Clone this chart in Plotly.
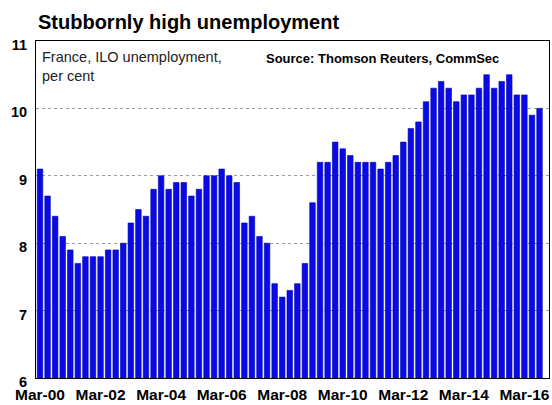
import plotly.graph_objects as go

# Quarterly labels, Mar-00 through Sep-16
months = ["Mar", "Jun", "Sep", "Dec"]
quarters = [f"{m}-{y:02d}" for y in range(0, 17) for m in months][:67]

# France ILO unemployment rate, per cent
unemployment = [
    9.1, 8.7, 8.4, 8.1, 7.9, 7.7, 7.8, 7.8,
    7.8, 7.9, 7.9, 8.0, 8.3, 8.5, 8.4, 8.8,
    9.0, 8.8, 8.9, 8.9, 8.7, 8.8, 9.0, 9.0,
    9.1, 9.0, 8.9, 8.3, 8.4, 8.1, 8.0, 7.4,
    7.2, 7.3, 7.4, 7.7, 8.6, 9.2, 9.2, 9.5,
    9.4, 9.3, 9.2, 9.2, 9.2, 9.1, 9.2, 9.3,
    9.5, 9.7, 9.8, 10.1, 10.3, 10.4, 10.3, 10.1,
    10.2, 10.2, 10.3, 10.5, 10.3, 10.4, 10.5, 10.2,
    10.2, 9.9, 10.0,
]

x_tick_labels = quarters[::8]
y_ticks = [6, 7, 8, 9, 10, 11]

fig = go.Figure(
    go.Bar(
        x=quarters,
        y=unemployment,
        marker=dict(color="#0a0ae6", line=dict(color="#0000a8", width=0.6)),
    )
)

fig.update_layout(
    width=552,
    height=405,
    margin=dict(l=36, r=2, t=41, b=21),
    paper_bgcolor="white",
    plot_bgcolor="white",
    bargap=0.27,
    showlegend=False,
    font=dict(family="Liberation Sans, Arial, sans-serif", color="black"),
)

fig.update_xaxes(
    type="category",
    categoryorder="array",
    categoryarray=quarters,
    range=[-0.53, 67.25],
    tickmode="array",
    tickvals=x_tick_labels,
    ticktext=x_tick_labels,
    tickfont=dict(size=15.5, weight="bold"),
    ticks="",
    ticklabelstandoff=2,
    showgrid=False,
    showline=True,
    mirror=True,
    linecolor="black",
    linewidth=1,
    tickangle=0,
)

fig.update_yaxes(
    range=[6, 11],
    tickmode="array",
    tickvals=y_ticks,
    ticktext=[str(v) for v in y_ticks],
    tickfont=dict(size=14.5, weight="bold"),
    ticks="",
    ticklabelstandoff=5,
    ticklabelshift=4,
    showgrid=True,
    gridcolor="#9a9a9a",
    griddash="dot",
    gridwidth=1,
    showline=True,
    mirror=True,
    linecolor="black",
    linewidth=1,
    zeroline=False,
)

fig.add_annotation(
    text="<b>Stubbornly high unemployment</b>",
    xref="paper", yref="paper",
    x=0.0, y=1.057,
    xanchor="left", yanchor="middle",
    showarrow=False,
    font=dict(size=20, color="black"),
)

fig.add_annotation(
    text="France, ILO unemployment,<br>per cent",
    xref="paper", yref="paper",
    x=0.008, y=0.982,
    xanchor="left", yanchor="top",
    align="left",
    showarrow=False,
    font=dict(size=14.5, color="#222"),
)

fig.add_annotation(
    text="<b>Source: Thomson Reuters, CommSec</b>",
    xref="paper", yref="paper",
    x=0.444, y=0.977,
    xanchor="left", yanchor="top",
    showarrow=False,
    font=dict(size=13, color="black"),
)

fig.write_html("out.html")
